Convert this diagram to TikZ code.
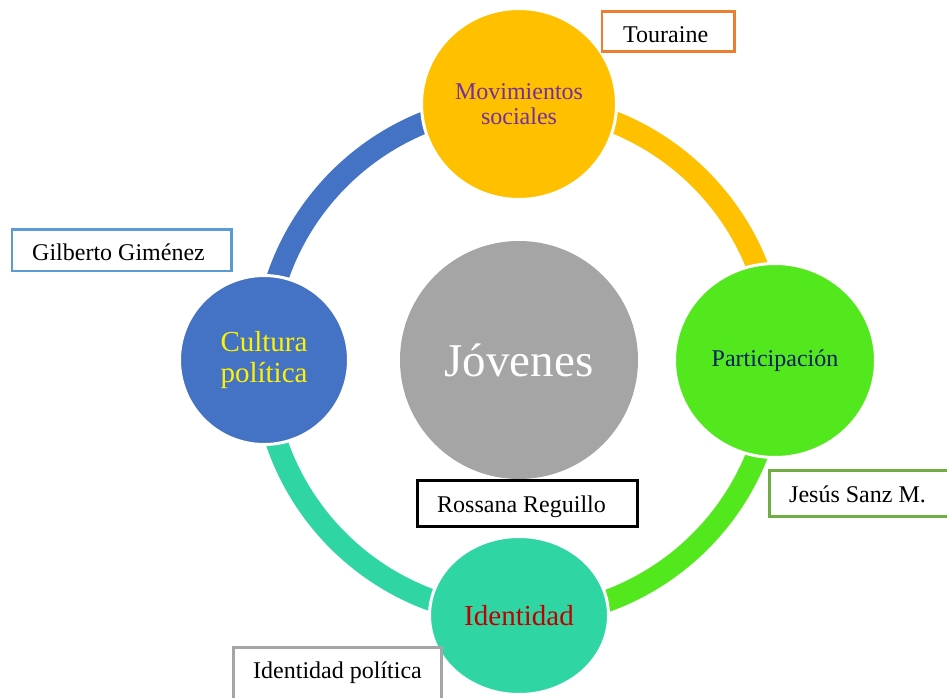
\documentclass[tikz,border=0pt]{standalone}
\usepackage{fontspec}
\setmainfont{Liberation Serif}
\usetikzlibrary{shapes.geometric,backgrounds}
\definecolor{cYel}{HTML}{FFC000}
\definecolor{cGrn}{HTML}{53E81D}
\definecolor{cBlu}{HTML}{4472C4}
\definecolor{cTeal}{HTML}{2FD6A4}
\definecolor{cGray}{HTML}{A5A5A5}
\definecolor{tPur}{HTML}{7030A0}
\definecolor{tNavy}{HTML}{002060}
\definecolor{tRed}{HTML}{C00000}
\definecolor{bOrg}{HTML}{ED7D31}
\definecolor{bBlu}{HTML}{5B9BD5}
\definecolor{bGrn}{HTML}{70AD47}
\begin{document}
\begin{tikzpicture}[x=1pt,y=-1pt,
  ringarc/.style={line width=22pt},
  bub/.style={ellipse, draw=white, line width=3pt, inner sep=0pt, align=center},
  box/.style={rectangle, draw, fill=white, line width=2.5pt, inner sep=0pt},
  lbl/.style={inner sep=0pt, anchor=base west, font=\fontsize{24}{28}\selectfont}
]
\useasboundingbox (0,0) rectangle (947,698);
\clip (0,0) rectangle (947,698);
% ring nodes
\node[bub, fill=cYel, minimum width=195pt, minimum height=191pt, text=tPur,
  font=\fontsize{24}{25}\selectfont] (top) at (519,104) {Movimientos\\sociales};
\node[bub, fill=cGrn, minimum width=201pt, minimum height=194pt, text=tNavy,
  font=\fontsize{24}{26}\selectfont] (right) at (775,360.5) {Participación};
\node[bub, fill=cTeal, minimum width=179pt, minimum height=158pt, text=tRed,
  font=\fontsize{29}{31}\selectfont] (bottom) at (519,615.5) {Identidad};
\node[bub, fill=cBlu, minimum width=169pt, minimum height=169pt, text=yellow,
  font=\fontsize{29}{31}\selectfont] (left) at (264,360) {Cultura\\política};
% arcs behind the circles
\begin{scope}[on background layer]
\fill[white] (0,0) rectangle (947,698);
\draw[ringarc, cYel] (top.center) arc[start angle=90, end angle=0, radius=256pt];
\draw[ringarc, cGrn] (right.center) arc[start angle=0, end angle=-90, radius=256pt];
\draw[ringarc, cTeal] (bottom.center) arc[start angle=-90, end angle=-180, radius=256pt];
\draw[ringarc, cBlu] (left.center) arc[start angle=180, end angle=90, radius=256pt];
\end{scope}
% centre
\node[circle, fill=cGray, minimum size=238pt, inner sep=0pt, text=white,
  font=\fontsize{47}{50}\selectfont] (jov) at (519,360) {Jóvenes};
% author boxes
\node[box, draw=bOrg, minimum width=132.5pt, minimum height=40pt] (tourB) at (668.2,31.5) {};
\node[lbl] (tourT) at (623,43) {Touraine};
\node[box, draw=bBlu, minimum width=219.7pt, minimum height=41.5pt] (gilB) at (121.8,250) {};
\node[lbl] (gilT) at (32,260) {Gilberto Giménez};
\node[box, draw=bGrn, minimum width=260pt, minimum height=46.4pt] (jesB) at (899.3,493.5) {};
\node[lbl] (jesT) at (789,502.7) {Jesús Sanz M.};
\node[box, draw=black, minimum width=220.4pt, minimum height=46.4pt] (rosB) at (527.5,503.5) {};
\node[lbl] (rosT) at (437,512.7) {Rossana Reguillo};
\node[box, draw=cGray, minimum width=208.4pt, minimum height=72.7pt] (idpB) at (337.5,683.6) {};
\node[lbl] (idpT) at (253,678) {Identidad política};
\end{tikzpicture}
\end{document}
